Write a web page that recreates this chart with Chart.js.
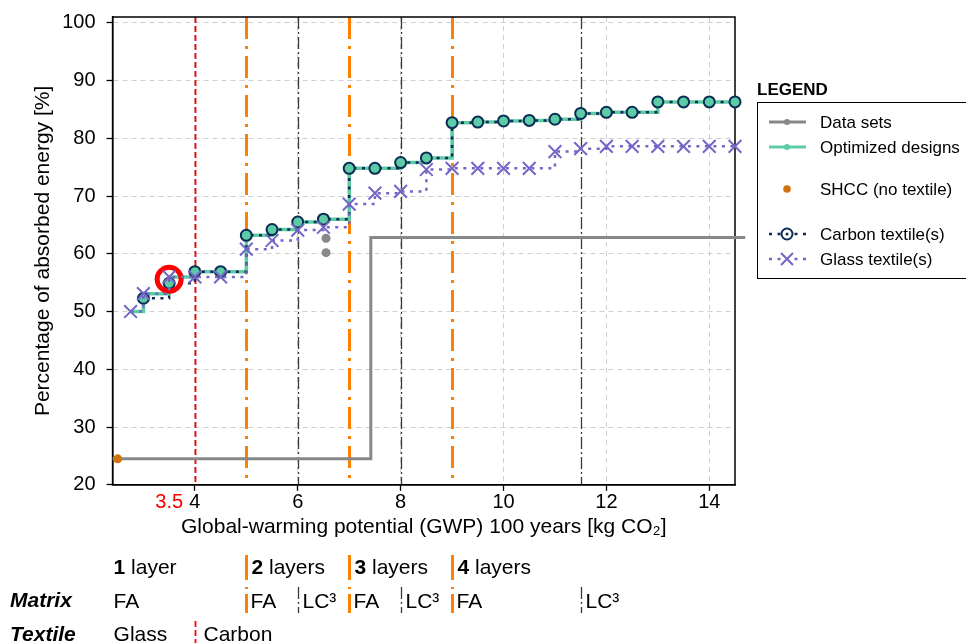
<!DOCTYPE html>
<html>
<head>
<meta charset="utf-8">
<script src="https://cdn.jsdelivr.net/npm/chart.js@4.4.1/dist/chart.umd.min.js"></script>
<style>
  html, body { margin: 0; padding: 0; background: #fff; }
  #wrap { width: 966px; height: 643px; }
</style>
</head>
<body>
<div id="wrap"><canvas id="chart" width="966" height="643"></canvas></div>
<script>
// ===== data =====
const X_MIN = 2.4, X_MAX = 14.5;
const Y_MIN = 20, Y_MAX = 101;
const X_TICKS = [3.5, 4, 6, 8, 10, 12, 14];
const Y_TICKS = [20, 30, 40, 50, 60, 70, 80, 90, 100];

// carbon textile(s)
const carbonX = [3, 3.5, 4, 4.5, 5, 5.5, 6, 6.5, 7, 7.5, 8, 8.5, 9, 9.5, 10, 10.5, 11, 11.5, 12, 12.5, 13, 13.5, 14, 14.5];
const carbonY = [52.3, 54.9, 56.9, 56.9, 63.2, 64.2, 65.5, 66.0, 74.8, 74.8, 75.8, 76.6, 82.7, 82.8, 83.0, 83.1, 83.3, 84.3, 84.5, 84.5, 86.3, 86.3, 86.3, 86.3];

// glass textile(s)
const glassX = [2.75, 3, 3.5, 4, 4.5, 5, 5.5, 6, 6.5, 7, 7.5, 8, 8.5, 9, 9.5, 10, 10.5, 11, 11.5, 12, 12.5, 13, 13.5, 14, 14.5];
const glassY = [50.0, 53.1, 56.0, 56.0, 56.0, 60.8, 62.3, 64.1, 64.6, 68.6, 70.5, 70.8, 74.6, 74.8, 74.8, 74.8, 74.8, 77.7, 78.2, 78.6, 78.6, 78.6, 78.6, 78.6, 78.6];

// optimized designs (envelope)
const optX = [2.75, 3, 3.5, 4, 4.5, 5, 5.5, 6, 6.5, 7, 7.5, 8, 8.5, 9, 9.5, 10, 10.5, 11, 11.5, 12, 12.5, 13, 13.5, 14, 14.5, 14.77];
const optY = [50.0, 53.1, 56.0, 56.9, 56.9, 63.2, 64.2, 65.5, 66.0, 74.8, 74.8, 75.8, 76.6, 82.7, 82.8, 83.0, 83.1, 83.3, 84.3, 84.5, 84.5, 86.3, 86.3, 86.3, 86.3, 86.3];

// data sets
const dataLineX = [2.4, 7.42, 14.7];
const dataLineY = [24.5, 62.8, 62.8];
const dataDotX = [6.55, 6.55];
const dataDotY = [62.7, 60.2];

// SHCC (no textile)
const shccX = [2.5];
const shccY = [24.5];

// selected design
const pickX = [3.5];
const pickY = [55.6];

// vertical markers
const ORANGE_AT = [5, 7, 9];
const BLACK_AT = [6, 8, 11.5];
const RED_AT = [4];

// annotation rows below the axis
const layerAt   = [X_MIN, 5, 7, 9];
const layerNum  = ['1', '2', '3', '4'];
const layerWord = [' layer', ' layers', ' layers', ' layers'];
const matrixAt   = [X_MIN, 5, 6, 7, 8, 9, 11.5];
const matrixName = ['FA', 'FA', 'LC³', 'FA', 'LC³', 'FA', 'LC³'];
const textileAt   = [X_MIN, 4];
const textileName = ['Glass', 'Carbon'];

// ===== styles =====
const FONT = '"Liberation Sans", Arial, sans-serif';
const C_TEAL   = '#5ccca6';
const C_NAVY   = '#0c2b55';
const C_PURPLE = '#7466c6';
const C_GRAY   = '#888888';
const C_SHCC   = '#d2720c';
const C_ORANGE = '#ff8000';
const C_BLACK  = '#3a3a3a';
const C_RED    = '#ff0000';

const DASH_ORANGE = [22, 7, 3, 7];
const DASH_BLACK  = [12, 3, 2, 3];
const DASH_RED    = [6, 3];

const pts = (xs, ys) => xs.map((x, i) => ({ x, y: ys[i] }));

function markerStyle(v) {
  if (ORANGE_AT.includes(v)) return { color: C_ORANGE, width: 3, dash: DASH_ORANGE };
  if (BLACK_AT.includes(v))  return { color: C_BLACK, width: 1.3, dash: DASH_BLACK };
  if (RED_AT.includes(v))    return { color: C_RED, width: 1.8, dash: DASH_RED };
  return null;
}

function vline(ctx, x, y1, y2, st, dash) {
  ctx.save();
  ctx.strokeStyle = st.color;
  ctx.lineWidth = st.width;
  ctx.setLineDash(dash || st.dash);
  ctx.beginPath();
  ctx.moveTo(x, y1);
  ctx.lineTo(x, y2);
  ctx.stroke();
  ctx.restore();
}

// ===== plugins =====
const refLines = {
  id: 'refLines',
  beforeDatasetsDraw(chart) {
    const { ctx, chartArea: a, scales: { x } } = chart;
    [...BLACK_AT, ...RED_AT, ...ORANGE_AT].forEach(v => {
      vline(ctx, Math.round(x.getPixelForValue(v)) + 0.5, a.top, a.bottom, markerStyle(v));
    });
    // frame
    ctx.save();
    ctx.strokeStyle = '#000';
    ctx.lineWidth = 1.5;
    ctx.strokeRect(a.left, a.top, a.right - a.left, a.bottom - a.top);
    ctx.restore();
  }
};

const rows = {
  id: 'rows',
  afterDraw(chart) {
    const { ctx, scales: { x } } = chart;
    const px = v => Math.round(x.getPixelForValue(v)) + 0.5;
    ctx.save();
    ctx.fillStyle = '#000';
    ctx.textBaseline = 'alphabetic';

    // row labels
    ctx.font = 'italic bold 21px ' + FONT;
    ctx.fillText('Matrix', 10, 607);
    ctx.fillText('Textile', 10, 641);

    // layers
    layerAt.forEach((v, i) => {
      const st = markerStyle(v);
      let tx = v === X_MIN ? chart.chartArea.left + 1 : px(v) + 5;
      if (st) vline(ctx, px(v), 555, 580, st, []);
      ctx.font = 'bold 21px ' + FONT;
      ctx.fillText(layerNum[i], tx, 574);
      tx += ctx.measureText(layerNum[i]).width;
      ctx.font = '21px ' + FONT;
      ctx.fillText(layerWord[i], tx, 574);
    });

    // matrix
    ctx.font = '21px ' + FONT;
    matrixAt.forEach((v, i) => {
      const st = markerStyle(v);
      const tx = v === X_MIN ? chart.chartArea.left + 1 : px(v) + 4;
      if (st) vline(ctx, px(v), 587, 613, st, ORANGE_AT.includes(v) ? [2, 5, 20, 100] : null);
      ctx.fillText(matrixName[i], tx, 608);
    });

    // textile
    textileAt.forEach((v, i) => {
      const st = markerStyle(v);
      const tx = v === X_MIN ? chart.chartArea.left + 1 : px(v) + 8;
      if (st) vline(ctx, px(v), 621, 643, st);
      ctx.fillText(textileName[i], tx, 641);
    });
    ctx.restore();
  }
};

const legendBox = {
  id: 'legendBox',
  afterDraw(chart) {
    const { ctx } = chart;
    const bx = 757, by = 103;
    const sx1 = 769, sx2 = 806, sc = 787, tx = 820;
    ctx.save();
    ctx.fillStyle = '#000';
    ctx.font = 'bold 17px ' + FONT;
    ctx.textBaseline = 'alphabetic';
    ctx.fillText('LEGEND', bx, 95);
    ctx.strokeStyle = '#000';
    ctx.lineWidth = 1;
    ctx.strokeRect(bx + 0.5, by - 0.5, 230, 176);

    const line = (y, color, w, dash) => {
      ctx.save();
      ctx.strokeStyle = color; ctx.lineWidth = w; ctx.setLineDash(dash);
      ctx.beginPath(); ctx.moveTo(sx1, y); ctx.lineTo(sx2, y); ctx.stroke();
      ctx.restore();
    };
    const dot = (y, color, r) => {
      ctx.fillStyle = color;
      ctx.beginPath(); ctx.arc(sc, y, r, 0, Math.PI * 2); ctx.fill();
    };

    const items = [
      { y: 122, text: 'Data sets' },
      { y: 147, text: 'Optimized designs' },
      { y: 189, text: 'SHCC (no textile)' },
      { y: 234, text: 'Carbon textile(s)' },
      { y: 259, text: 'Glass textile(s)' },
    ];
    line(122, C_GRAY, 3, []);  dot(122, C_GRAY, 3);
    line(147, C_TEAL, 3, []);  dot(147, C_TEAL, 3);
    dot(189, C_SHCC, 3.8);
    line(234, C_NAVY, 2.5, [3, 5.5]);
    ctx.fillStyle = '#fff';
    ctx.strokeStyle = C_NAVY; ctx.lineWidth = 2;
    ctx.beginPath(); ctx.arc(sc, 234, 5.5, 0, Math.PI * 2); ctx.fill(); ctx.stroke();
    dot(234, C_NAVY, 1.5);
    line(259, C_PURPLE, 2.5, [3, 5.5]);
    ctx.fillStyle = '#fff';
    ctx.fillRect(sc - 6, 253, 12, 12);
    ctx.strokeStyle = C_PURPLE; ctx.lineWidth = 2;
    ctx.beginPath();
    ctx.moveTo(sc - 6, 253); ctx.lineTo(sc + 6, 265);
    ctx.moveTo(sc + 6, 253); ctx.lineTo(sc - 6, 265);
    ctx.stroke();

    ctx.fillStyle = '#000';
    ctx.font = '17px ' + FONT;
    ctx.textBaseline = 'middle';
    items.forEach(it => ctx.fillText(it.text, tx, it.y + 1));
    ctx.restore();
  }
};

// ===== chart =====
Chart.defaults.font.family = FONT;
Chart.defaults.color = '#000';

const noColor = 'rgba(0,0,0,0)';

new Chart(document.getElementById('chart').getContext('2d'), {
  type: 'scatter',
  data: {
    datasets: [
      {
        label: 'Data sets',
        data: pts(dataLineX, dataLineY),
        showLine: true, stepped: 'before',
        borderColor: C_GRAY, borderWidth: 3, pointRadius: 0,
        clip: false, order: 9,
      },
      {
        label: 'Optimized designs',
        data: pts(optX, optY),
        showLine: true, stepped: 'before',
        borderColor: C_TEAL, borderWidth: 3.5, pointRadius: 0,
        clip: false, order: 8,
      },
      {
        label: 'Data set points',
        data: pts(dataDotX, dataDotY),
        backgroundColor: C_GRAY, borderWidth: 0, pointRadius: 4.5,
        clip: false, order: 7,
      },
      {
        label: 'SHCC (no textile)',
        data: pts(shccX, shccY),
        backgroundColor: C_SHCC, borderWidth: 0, pointRadius: 4.5,
        clip: false, order: 7,
      },
      {
        label: 'Carbon textile(s)',
        data: pts(carbonX, carbonY),
        showLine: true, stepped: 'before',
        borderColor: C_NAVY, borderWidth: 2.5, borderDash: [3, 5.5],
        pointRadius: 5.5, pointBorderWidth: 2,
        pointBackgroundColor: C_TEAL, pointBorderColor: C_NAVY,
        clip: false, order: 4,
      },
      {
        label: 'Selected',
        data: pts(pickX, pickY),
        pointRadius: 12, pointBorderWidth: 5,
        pointBorderColor: C_RED, pointBackgroundColor: noColor,
        clip: false, order: 3,
      },
      {
        label: 'Glass textile(s)',
        data: pts(glassX, glassY),
        showLine: true, stepped: 'before',
        borderColor: C_PURPLE, borderWidth: 2.5, borderDash: [3, 5.5],
        pointStyle: 'crossRot', pointRadius: 9, pointBorderWidth: 2,
        pointBorderColor: C_PURPLE,
        clip: false, order: 2,
      },
    ]
  },
  options: {
    responsive: false,
    animation: false,
    devicePixelRatio: 1,
    layout: { padding: { left: 31, right: 231, top: 13, bottom: 103 } },
    plugins: { legend: { display: false }, tooltip: { enabled: false } },
    scales: {
      x: {
        type: 'linear', min: X_MIN, max: X_MAX,
        afterBuildTicks: axis => { axis.ticks = X_TICKS.map(v => ({ value: v })); },
        ticks: {
          autoSkip: false, maxRotation: 0, padding: 0,
          font: { size: 20 },
          color: ctx => (ctx.tick && ctx.tick.value === 3.5 ? C_RED : '#000'),
          callback: v => String(v),
        },
        grid: {
          color: ctx => (ctx.tick && ctx.tick.value === 3.5 ? noColor : '#cfcfcf'),
          lineWidth: 1,
          tickLength: 6, tickWidth: 1.3, tickBorderDash: [],
          tickColor: ctx => (ctx.tick && ctx.tick.value === 3.5 ? noColor : '#000'),
        },
        border: { color: '#000', width: 1.5, dash: [5, 4] },
        title: {
          display: true,
          text: 'Global-warming potential (GWP) 100 years [kg CO₂]',
          font: { size: 21 }, color: '#000',
          padding: { top: 0, bottom: 0 },
        },
      },
      y: {
        type: 'linear', min: Y_MIN, max: Y_MAX,
        afterBuildTicks: axis => { axis.ticks = Y_TICKS.map(v => ({ value: v })); },
        ticks: { padding: 11, font: { size: 20, lineHeight: 0.1 }, color: '#000' },
        grid: {
          color: '#cfcfcf', lineWidth: 1,
          tickLength: 6, tickWidth: 1.3, tickBorderDash: [], tickColor: '#000',
        },
        border: { color: '#000', width: 1.5, dash: [5, 4] },
        title: {
          display: true,
          text: 'Percentage of absorbed energy [%]',
          font: { size: 21 }, color: '#000',
          padding: { top: 0, bottom: -5 },
        },
      },
    },
  },
  plugins: [refLines, rows, legendBox],
});
</script>
</body>
</html>
